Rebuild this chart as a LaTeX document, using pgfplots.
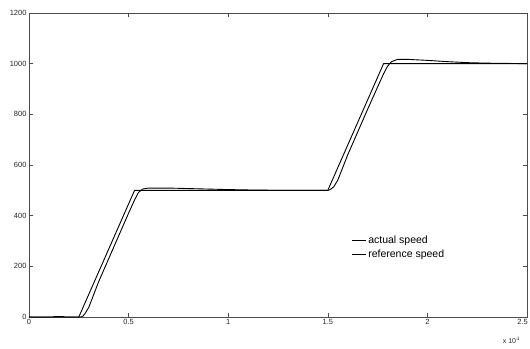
\documentclass[border=0pt]{standalone}
\usepackage{fontspec}
\setmainfont{Liberation Sans}
\usepackage{pgfplots}
\pgfplotsset{compat=1.18}
\begin{document}
\begin{tikzpicture}[x=1pt,y=1pt]
\useasboundingbox (0,0) rectangle (530,348);
\begin{axis}[
  at={(29pt,31pt)}, anchor=south west,
  scale only axis, width=498pt, height=304pt,
  xmin=0, xmax=2.5, ymin=0, ymax=1200,
  xtick={0,0.5,1,1.5,2,2.5},
  xticklabels={0,0.5,1,1.5,2,{2.5\hspace*{9pt}}},
  ytick={0,200,400,600,800,1000,1200},
  tick align=inside, major tick length=4pt,
  axis line style={black!70, line width=0.7pt},
  tick style={black!70, line width=0.6pt},
  ticklabel style={font=\fontsize{7.5}{8}\selectfont, text=black!85},
  /pgf/number format/assume math mode=true,
  /pgf/number format/1000 sep={},
  xticklabel style={yshift=1pt},
  yticklabel style={xshift=1pt},
  legend cell align=left,
  legend style={draw=none, fill=none, at={(rel axis cs:0.647,0.275)}, anchor=north west,
    font=\fontsize{10.5}{12}\selectfont, row sep=1pt, inner sep=0pt},
  legend image code/.code={\draw[line width=0.9pt] (0pt,0pt) -- (14pt,0pt);},
  clip=false,
]
% measured speed (lags the reference, small overshoot after each ramp)
\addplot[black, line width=0.9pt] coordinates {
 (0,0) (0.12,0) (0.13,2) (0.17,2) (0.18,0) (0.26,0) (0.27,3) (0.28,12) (0.30,38)
 (0.35,140) (0.40,230) (0.45,320) (0.50,410) (0.53,462) (0.55,492)
 (0.57,505) (0.60,509) (0.70,509) (0.80,507) (0.90,505) (1.00,503)
 (1.10,501.5) (1.20,500.5) (1.30,500) (1.50,500)
 (1.51,502) (1.53,514) (1.55,540) (1.60,640) (1.65,730) (1.70,820)
 (1.75,908) (1.78,960) (1.80,990) (1.82,1008) (1.85,1017) (1.90,1017)
 (2.00,1013) (2.10,1008) (2.20,1004) (2.30,1002) (2.40,1001) (2.50,1000)
};
\addlegendentry{actual speed}
% commanded speed profile
\addplot[black, line width=0.9pt] coordinates {
 (0,0) (0.25,0) (0.53,500) (1.50,500) (1.78,1000) (2.50,1000)
};
\addlegendentry{reference speed}
\node[anchor=east, font=\fontsize{7}{8}\selectfont, text=black!85] at (rel axis cs:0.993,-0.076) {x 10$^4$};
\end{axis}
\end{tikzpicture}
\end{document}
